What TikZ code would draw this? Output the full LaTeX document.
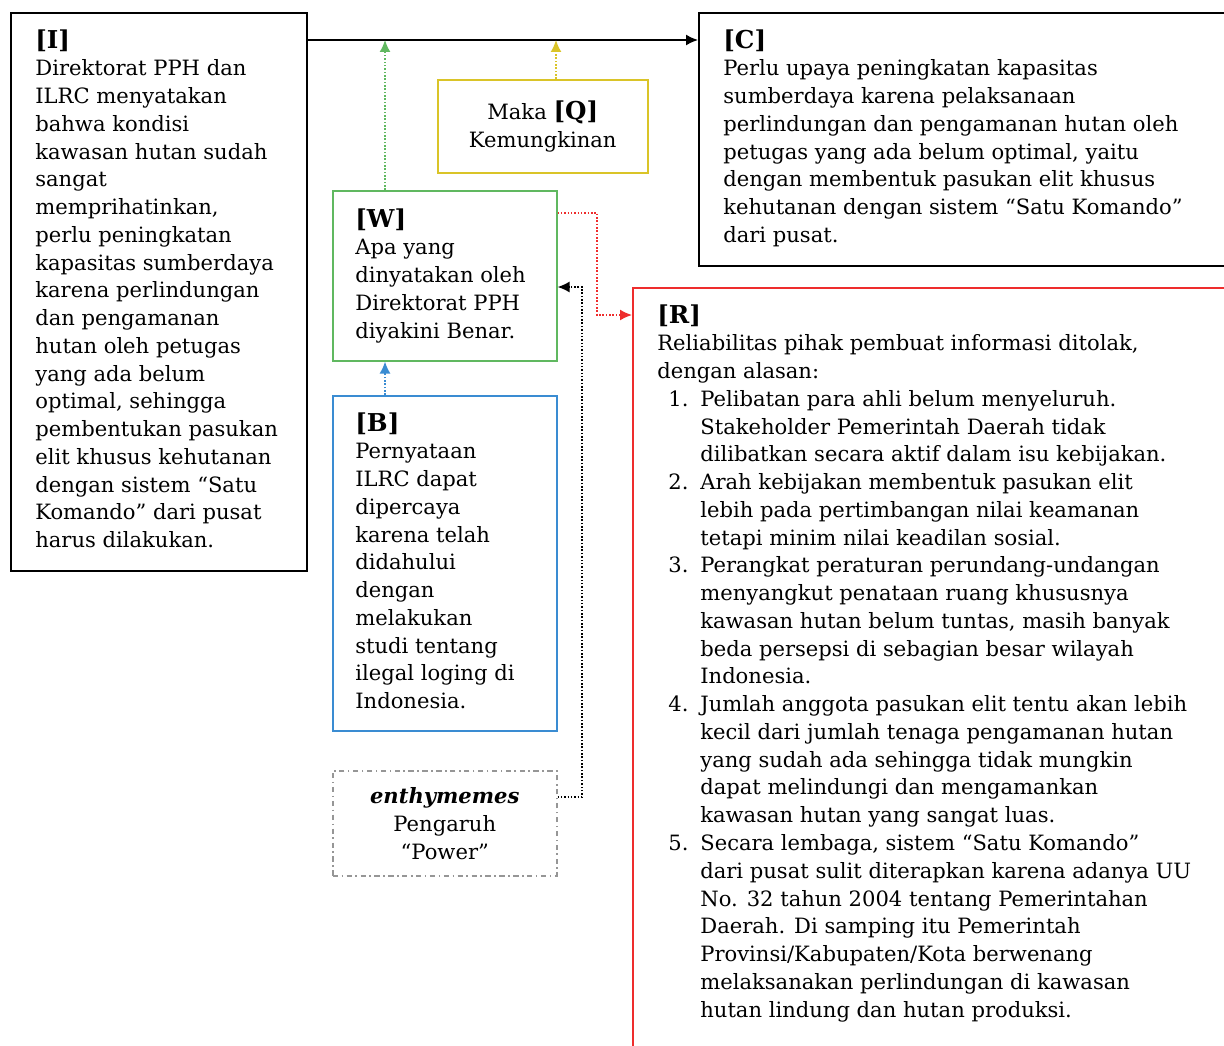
\documentclass[tikz,border=0pt]{standalone}
\usepackage{fontspec}
\setmainfont{DejaVu Serif}
\usetikzlibrary{arrows.meta}
\definecolor{argred}{RGB}{238,45,45}
\definecolor{arggreen}{RGB}{96,184,96}
\definecolor{argyellow}{RGB}{218,196,40}
\definecolor{argblue}{RGB}{58,140,210}
\definecolor{arggray}{RGB}{150,150,150}
\newcommand{\hdr}[1]{{\fontsize{14}{16}\selectfont\bfseries[#1]}}
\newcommand{\rnum}[1]{\makebox[0.86cm][l]{\hspace{0.22cm}#1}}
\newcommand{\rind}{\hspace*{0.86cm}}
\tikzstyle{box} =
[rectangle, anchor=north west, inner sep=0pt]
\tikzstyle{claim} =
[box, draw=black, line width=1.1pt]
\tikzstyle{qualifier} =
[box, draw=argyellow, line width=0.9pt, align=center, font=\fontsize{12}{15.9}\selectfont]
\tikzstyle{warrant} =
[box, draw=arggreen, line width=0.9pt]
\tikzstyle{backing} =
[box, draw=argblue, line width=0.9pt]
\tikzstyle{rebuttal} =
[box, draw=argred, line width=0.9pt]
\tikzstyle{enthy} =
[box, draw=arggray, line width=0.9pt, dash dot, align=center,
font=\fontsize{12}{15.9}\selectfont]
\tikzstyle{argtext} =
[anchor=north west, inner sep=0pt, align=left, font=\fontsize{12}{15.8}\selectfont]
\tikzstyle{line} = [draw, -{Latex[length=2.4mm, width=2.2mm]}, line width=0.9pt]
\tikzstyle{dotline} = [draw, -{Latex[length=2.4mm, width=2.2mm]}, line width=0.9pt,
densely dotted]

\begin{document}
\begin{tikzpicture}[x=0.02cm, y=-0.02cm]
  \clip (0,0) rectangle (1224,1045);
  % boxes
  \node [claim, minimum width=5.92cm, minimum height=11.16cm] (I) at (10,12) {};
  \node [claim, minimum width=10.8cm, minimum height=5.06cm] (C) at (698,12) {};
  \node [qualifier, minimum width=4.2cm, minimum height=1.86cm] (Q) at (437,79)
   {Maka \hdr{Q}\\ Kemungkinan};
  \node [warrant, minimum width=4.48cm, minimum height=3.4cm] (W) at (332,190) {};
  \node [backing, minimum width=4.48cm, minimum height=6.7cm] (B) at (332,395) {};
  \node [enthy, minimum width=4.48cm, minimum height=2.1cm] (E) at (332,770)
   {\textbf{\textit{enthymemes}}\\ Pengaruh\\ “Power”};
  \node [rebuttal, minimum width=12.4cm, minimum height=16cm] (R) at (632,287) {};
  %
  % box texts
  \node [argtext] (Itext) at ([shift={(25,17)}]I.north west)
   {\hdr{I}\\ Direktorat PPH dan\\ ILRC menyatakan\\ bahwa kondisi\\
    kawasan hutan sudah\\ sangat\\ memprihatinkan,\\ perlu peningkatan\\
    kapasitas sumberdaya\\ karena perlindungan\\ dan pengamanan\\
    hutan oleh petugas\\ yang ada belum\\ optimal, sehingga\\
    pembentukan pasukan\\ elit khusus kehutanan\\ dengan sistem “Satu\\
    Komando” dari pusat\\ harus dilakukan.};
  \node [argtext] (Ctext) at ([shift={(25,17)}]C.north west)
   {\hdr{C}\\ Perlu upaya peningkatan kapasitas\\ sumberdaya karena pelaksanaan\\
    perlindungan dan pengamanan hutan oleh\\ petugas yang ada belum optimal, yaitu\\
    dengan membentuk pasukan elit khusus\\ kehutanan dengan sistem “Satu Komando”\\
    dari pusat.};
  \node [argtext] (Wtext) at ([shift={(23,18)}]W.north west)
   {\hdr{W}\\ Apa yang\\ dinyatakan oleh\\ Direktorat PPH\\ diyakini Benar.};
  \node [argtext] (Btext) at ([shift={(23,17)}]B.north west)
   {\hdr{B}\\ Pernyataan\\ ILRC dapat\\ dipercaya\\ karena telah\\ didahului\\
    dengan\\ melakukan\\ studi tentang\\ ilegal loging di\\ Indonesia.};
  \node [argtext] (Rtext) at ([shift={(25,17)}]R.north west)
   {\hdr{R}\\ Reliabilitas pihak pembuat informasi ditolak,\\ dengan alasan:\\
    \rnum{1.}Pelibatan para ahli belum menyeluruh.\\
    \rind Stakeholder Pemerintah Daerah tidak\\
    \rind dilibatkan secara aktif dalam isu kebijakan.\\
    \rnum{2.}Arah kebijakan membentuk pasukan elit\\
    \rind lebih pada pertimbangan nilai keamanan\\
    \rind tetapi minim nilai keadilan sosial.\\
    \rnum{3.}Perangkat peraturan perundang-undangan\\
    \rind menyangkut penataan ruang khususnya\\
    \rind kawasan hutan belum tuntas, masih banyak\\
    \rind beda persepsi di sebagian besar wilayah\\
    \rind Indonesia.\\
    \rnum{4.}Jumlah anggota pasukan elit tentu akan lebih\\
    \rind kecil dari jumlah tenaga pengamanan hutan\\
    \rind yang sudah ada sehingga tidak mungkin\\
    \rind dapat melindungi dan mengamankan\\
    \rind kawasan hutan yang sangat luas.\\
    \rnum{5.}Secara lembaga, sistem “Satu Komando”\\
    \rind dari pusat sulit diterapkan karena adanya UU\\
    \rind No. 32 tahun 2004 tentang Pemerintahan\\
    \rind Daerah. Di samping itu Pemerintah\\
    \rind Provinsi/Kabupaten/Kota berwenang\\
    \rind melaksanakan perlindungan di kawasan\\
    \rind hutan lindung dan hutan produksi.};
  %
  % connector points
  \coordinate (mainy) at (0,40);
  \coordinate (jW) at (385,40);
  \coordinate (jQ) at (556,40);
  \coordinate (rA) at (597,213);
  \coordinate (rB) at (597,315);
  \coordinate (kA) at (582,797);
  \coordinate (kB) at (582,287);
  %
  % connectors
  \path [line] (I.north east |- mainy) -- (C.north west |- mainy);
  \path [dotline, arggreen] (W.north -| jW) -- (jW);
  \path [dotline, argyellow] (Q.north -| jQ) -- (jQ);
  \path [dotline, argblue] (B.north -| jW) -- (W.south -| jW);
  \path [dotline, argred] (W.east |- rA) -- (rA) -- (rB) -- (R.west |- rB);
  \path [dotline, black] (E.east |- kA) -- (kA) -- (kB) -- (W.east |- kB);
\end{tikzpicture}
\end{document}
